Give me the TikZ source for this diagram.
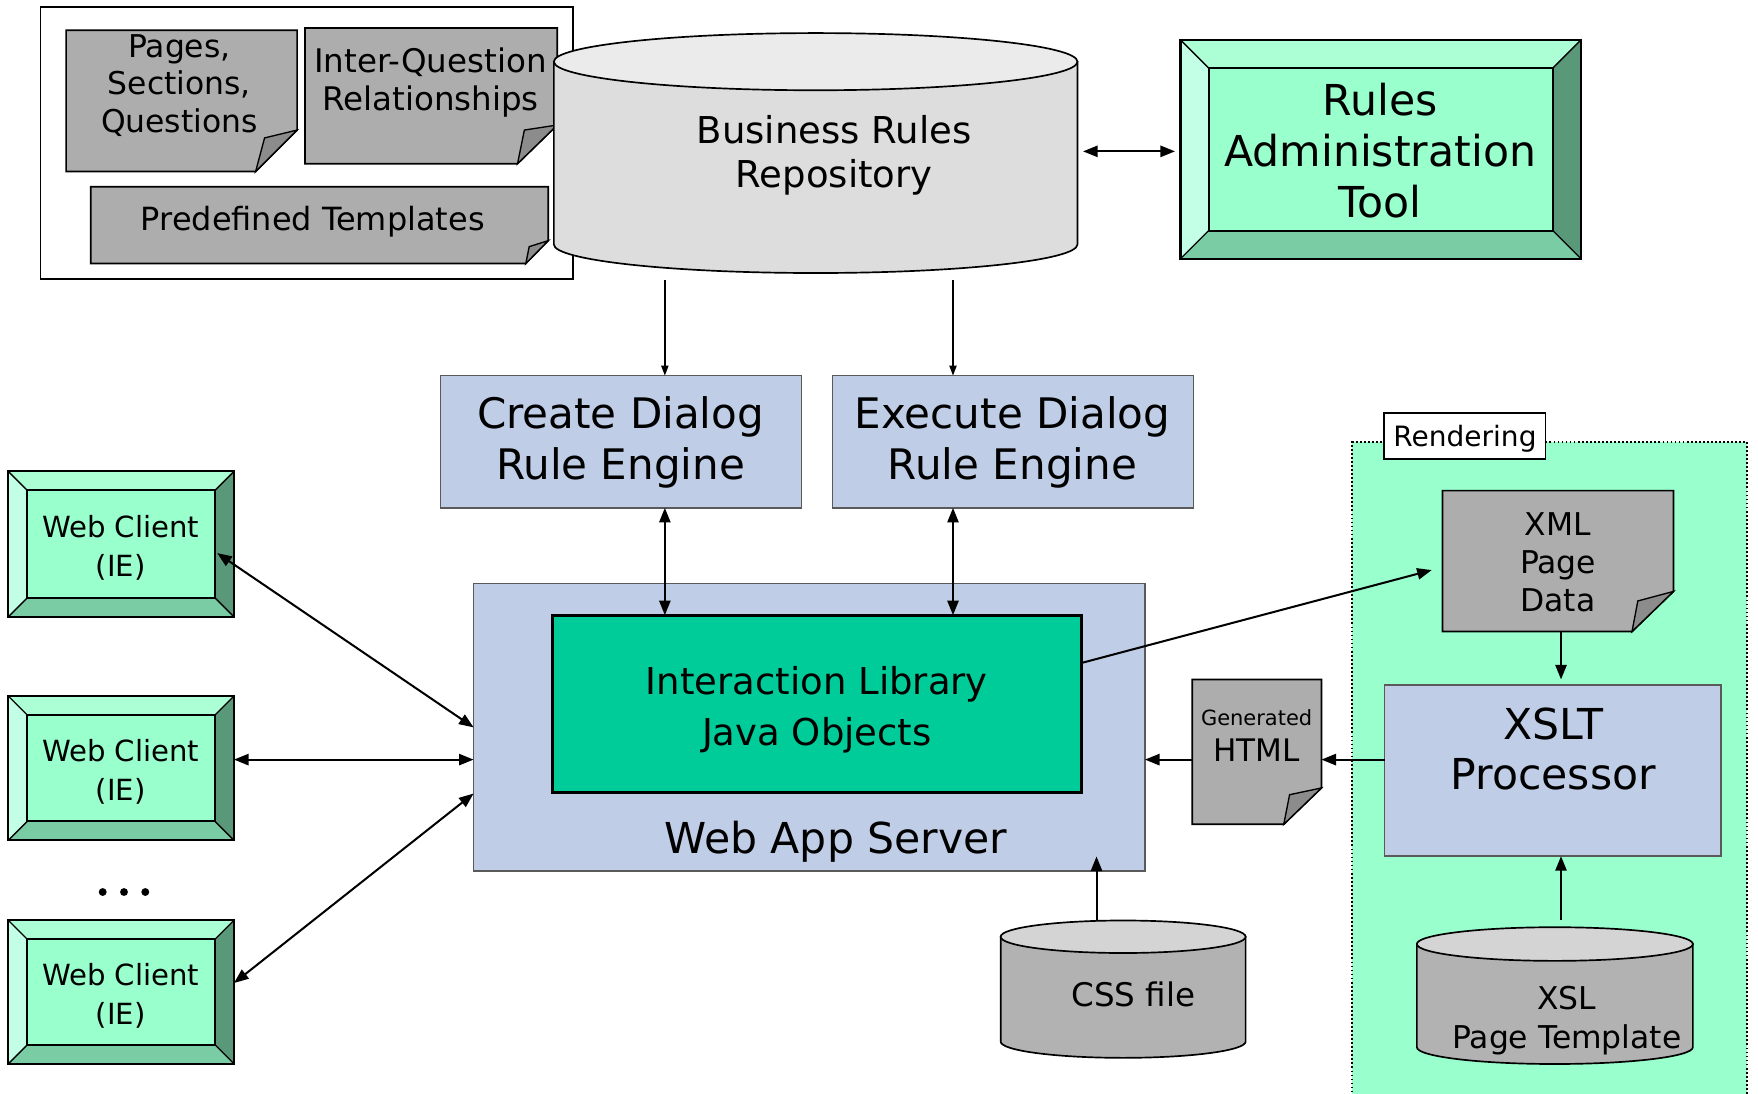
\documentclass[tikz,border=0pt]{standalone}
\usepackage{fontspec}
\setmainfont{DejaVu Sans}
\usetikzlibrary{arrows.meta,calc}
\definecolor{blueb}{RGB}{191,206,230}
\definecolor{blueline}{RGB}{90,90,90}
\definecolor{noteg}{RGB}{173,173,173}
\definecolor{foldg}{RGB}{140,140,140}
\definecolor{cylA}{RGB}{221,221,221}
\definecolor{cylAtop}{RGB}{235,235,235}
\definecolor{cylB}{RGB}{178,178,178}
\definecolor{cylBtop}{RGB}{212,212,212}
\definecolor{mint}{RGB}{153,255,204}
\definecolor{bvtop}{RGB}{172,255,213}
\definecolor{bvleft}{RGB}{194,255,230}
\definecolor{bvright}{RGB}{90,152,122}
\definecolor{bvbot}{RGB}{122,204,164}
\definecolor{ilgreen}{RGB}{0,204,153}
\newcommand{\fs}[2]{\fontsize{#1pt}{#2pt}\selectfont}
% bevel box: name x1 y1 x2 y2 bevel
\newcommand\bevelbox[6]{%
 \fill[bvtop] (#2,#3) -- (#4,#3) -- ({#4-#6},{#3+#6}) -- ({#2+#6},{#3+#6}) -- cycle;
 \fill[bvbot] (#2,#5) -- (#4,#5) -- ({#4-#6},{#5-#6}) -- ({#2+#6},{#5-#6}) -- cycle;
 \fill[bvleft] (#2,#3) -- ({#2+#6},{#3+#6}) -- ({#2+#6},{#5-#6}) -- (#2,#5) -- cycle;
 \fill[bvright] (#4,#3) -- ({#4-#6},{#3+#6}) -- ({#4-#6},{#5-#6}) -- (#4,#5) -- cycle;
 \draw[line width=1.2pt] (#2,#3) -- ({#2+#6},{#3+#6}) (#4,#3) -- ({#4-#6},{#3+#6})
   (#4,#5) -- ({#4-#6},{#5-#6}) (#2,#5) -- ({#2+#6},{#5-#6});
 \draw[fill=mint, line width=1.8pt] ({#2+#6},{#3+#6}) rectangle ({#4-#6},{#5-#6});
 \node[draw, line width=2pt, inner sep=0pt, outer sep=0pt, minimum width={#4-#2}, minimum height={#5-#3}, anchor=north west] (#1) at (#2,#3) {};
}
% note: name x1 y1 x2 y2 rightcut-y bottomcut-x innerx innery
\newcommand\notebox[9]{%
 \filldraw[fill=noteg, line width=1.5pt, line join=miter] (#2,#3) -- (#4,#3) -- (#4,#6) -- (#7,#5) -- (#2,#5) -- cycle;
 \filldraw[fill=foldg, line width=1.2pt] (#7,#5) -- (#8,#9) -- (#4,#6) -- cycle;
 \node[inner sep=0pt, outer sep=0pt, minimum width={#4-#2}, minimum height={#5-#3}, anchor=north west] (#1) at (#2,#3) {};
}
% cylinder: name xc rx ytop ybottom ry body top
\newcommand\cylinder[8]{%
 \filldraw[fill=#7, line width=1.5pt] ({#2-#3},#4) -- ({#2-#3},#5)
   .. controls ({#2-#3},{#5+0.5523*#6}) and ({#2-0.5523*#3},{#5+#6}) .. (#2,{#5+#6})
   .. controls ({#2+0.5523*#3},{#5+#6}) and ({#2+#3},{#5+0.5523*#6}) .. ({#2+#3},#5)
   -- ({#2+#3},#4) -- cycle;
 \filldraw[fill=#8, line width=1.5pt] (#2,#4) ellipse [x radius=#3, y radius=#6];
 \node[inner sep=0pt, outer sep=0pt, minimum width={2*#3}, minimum height={#5-#4+2*#6}, anchor=north] (#1) at (#2,{#4-#6}) {};
}
\tikzset{
 >={Triangle[length=13pt,width=10pt]},
 conn/.style={line width=1.8pt},
 thinconn/.style={line width=1.3pt, -{Triangle[length=9pt,width=6.5pt]}},
 bluebox/.style={draw=blueline, fill=blueb, line width=1.2pt, inner sep=0pt, outer sep=0pt, anchor=north west},
 txt/.style={inner sep=0pt, align=center},
}
\begin{document}
\begin{tikzpicture}[x=1pt,y=-1pt]
\useasboundingbox (0,0) rectangle (1568,975);
\fill[white] (0,0) rectangle (1568,975);

% rendering region
\node[draw, dotted, line width=1.6pt, fill=mint, inner sep=0pt, outer sep=0pt, minimum width=352.1, minimum height=600, anchor=north west] (rendering) at (1206.2,394.2) {};
\node[draw, fill=white, line width=1.5pt, inner sep=0pt, minimum width=143.9, minimum height=40.6] (renderlbl) at (1306.55,388.9) {};

% repository contents box
\node[draw, line width=1.5pt, inner sep=0pt, outer sep=0pt, minimum width=475, minimum height=243, anchor=north west] (repoitems) at (36,6) {};
\notebox{pages}{59}{27}{265}{153}{116}{228}{236}{123}
\notebox{interq}{272}{25}{497}{146}{111.5}{461.6}{467.7}{116}
\notebox{predef}{81}{166.5}{489}{235}{214.6}{469}{472}{220}

% business rules repository
\cylinder{brr}{727.5}{233.5}{55}{218}{25.5}{cylA}{cylAtop}

% rules administration tool
\bevelbox{rat}{1053}{35.7}{1410}{230.7}{25}

% rule engines
\node[bluebox, minimum width=322.2, minimum height=118] (create) at (392.8,335) {};
\node[bluebox, minimum width=322.2, minimum height=118] (execute) at (742.3,335) {};

% web app server
\node[bluebox, minimum width=598.8, minimum height=256.3] (server) at (422.4,520.6) {};
\node[draw, fill=ilgreen, line width=2.5pt, inner sep=0pt, outer sep=0pt, minimum width=471.8, minimum height=158.3, anchor=north west] (interlib) at (493,548.7) {};

% web clients
\bevelbox{wc1}{7.4}{420.4}{208.7}{550.2}{17}
\bevelbox{wc2}{7.4}{620.8}{208.7}{749.5}{17}
\bevelbox{wc3}{7.4}{820.8}{208.7}{948.8}{17}
\fill (91.6,795.6) circle[radius=3.5] (110.6,795.6) circle[radius=3.5] (129.6,795.6) circle[radius=3.5];

% rendering parts
\notebox{xml}{1286.5}{437.6}{1492.6}{563.3}{527.5}{1455.6}{1460.8}{536}
\notebox{html}{1063.4}{606}{1178.6}{735.2}{702.8}{1145}{1150.2}{708.8}
\node[bluebox, minimum width=300.2, minimum height=152.6] (xslt) at (1234.9,611) {};
\cylinder{css}{1001.75}{109.25}{835.5}{929}{14.5}{cylB}{cylBtop}
\cylinder{xsl}{1386.8}{123.1}{842}{934}{15}{cylB}{cylBtop}

% texts
\node[txt, font={\fs{28}{33.5}}] (pagesT) at (160,76.3) {Pages,\\Sections,\\Questions};
\node[txt, font={\fs{29}{34}}] (interqT) at (384,73.4) {Inter-Question\\Relationships};
\node[txt, font={\fs{28.5}{34}}] (predefT) at (279,197.8) {Predefined Templates};
\node[txt, font={\fs{33}{40}}] (brrT) at (744,138.5) {Business Rules\\Repository};
\node[txt, font={\fs{38}{45.5}}] (ratT) at (1231,134.5) {Rules\\Administration\\Tool};
\node[txt, font={\fs{37.5}{45.5}}] (createT) at (553.5,394.5) {Create Dialog\\Rule Engine};
\node[txt, font={\fs{37.5}{45.5}}] (executeT) at (903,394.5) {Execute Dialog\\Rule Engine};
\node[txt, font={\fs{33}{45}}] (interlibT) at (728.6,632.9) {Interaction Library\\Java Objects};
\node[txt, font={\fs{38}{45}}] (serverT) at (745.5,750.6) {Web App Server};
\node[txt, font={\fs{26}{34.7}}] (wc1T) at (107.6,489) {Web Client\\(IE)};
\node[txt, font={\fs{26}{34.7}}] (wc2T) at (107.6,688.6) {Web Client\\(IE)};
\node[txt, font={\fs{26}{34.7}}] (wc3T) at (107.6,888.6) {Web Client\\(IE)};
\node[txt, font={\fs{25}{30}}] (renderT) at (1306.6,391.5) {Rendering};
\node[txt, font={\fs{28}{34}}] (xmlT) at (1389.6,501.3) {XML\\Page\\Data};
\node[txt, font={\fs{38}{45.4}}] (xsltT) at (1385.4,668) {XSLT\\Processor};
\node[txt, font={\fs{18.7}{22}}] (genT) at (1120.8,639.7) {Generated};
\node[txt, font={\fs{27.7}{32}}] (htmlT) at (1120.8,669.1) {HTML};
\node[txt, font={\fs{29}{34}}] (cssT) at (1010.8,887.3) {CSS file};
\node[txt, font={\fs{28}{34.5}}] (xslT) at (1397.5,910) {XSL\\Page Template};

% connector helpers
\coordinate (colA) at (593,0);
\coordinate (colB) at (850,0);
\coordinate (colC) at (1392.3,0);
\coordinate (colD) at (978,0);
\coordinate (rowH) at (0,677.5);
\coordinate (rowT) at (0,135);

% connectors
\draw[conn,<->] ($(brr.east |- rowT)+(5,0)$) -- ($(rat.west |- rowT)+(-5,0)$);
\draw[thinconn] ($(brr.south -| colA)+(0,6)$) -- (create.north -| colA);
\draw[thinconn] ($(brr.south -| colB)+(0,6)$) -- (execute.north -| colB);
\draw[conn,<->] (create.south -| colA) -- (interlib.north -| colA);
\draw[conn,<->] (execute.south -| colB) -- (interlib.north -| colB);
\draw[conn,<->] ($(wc1.east)+(-15,8)$) -- (server.west);
\draw[conn,<->] (wc2.east |- rowH) -- (server.west |- rowH);
\draw[conn,<->] ($(wc3.east)+(0,-8)$) -- ($(server.west)+(0,59)$);
\draw[conn,->] ($(interlib.east)+(0,-36.6)$) -- ($(xml.west)+(-9.5,8)$);
\draw[conn,->] (xml.south -| colC) -- ($(xslt.north -| colC)+(0,-5)$);
\draw[conn,->] (xslt.west |- rowH) -- (html.east |- rowH);
\draw[conn,->] (html.west |- rowH) -- (server.east |- rowH);
\draw[conn,->] (css.north -| colD) -- ($(server.south -| colD)+(0,-13)$);
\draw[conn,->] ($(xsl.north -| colC)+(0,-6)$) -- (xslt.south -| colC);
\end{tikzpicture}
\end{document}
